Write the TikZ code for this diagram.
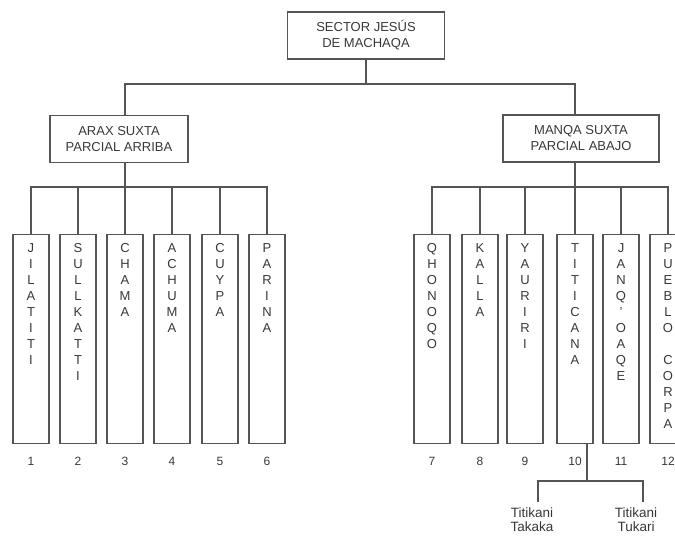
\documentclass[tikz,border=0pt]{standalone}
\usepackage{fontspec}
\setmainfont{Liberation Sans}
\usepackage{tikz}
\usetikzlibrary{calc}
\definecolor{myline}{HTML}{555555}
\definecolor{mytext}{HTML}{383838}

\begin{document}
\begin{tikzpicture}[x=1pt,y=-1pt,line width=1.3pt,draw=myline,
    every node/.style={text=mytext,font=\fontsize{13}{16}\selectfont},
    head/.style={draw=myline,align=center,inner sep=0pt,minimum height=47pt},
    leaf/.style={draw=myline,anchor=north,inner sep=0pt,minimum width=36pt,minimum height=209pt},
    letters/.style={anchor=north,align=center,inner sep=0pt},
    num/.style={font=\fontsize{12}{14}\selectfont},
    sub/.style={anchor=north,align=center,inner sep=0pt,font=\fontsize{13.5}{14}\selectfont}]

\useasboundingbox (0,0) rectangle (675,538);

\node[head,minimum width=157pt] (sector) at (366,35.5) {SECTOR JESÚS\\DE MACHAQA};
\node[head,minimum width=138pt] (arax) at (119,139) {ARAX SUXTA\\PARCIAL ARRIBA};
\node[head,minimum width=156pt] (manqa) at (581,138.5) {MANQA SUXTA\\PARCIAL ABAJO};

\foreach \i/\x in {1/31,2/78,3/125,4/172,5/220,6/267,
                   7/432,8/480,9/525,10/575,11/621,12/668}
{
    \node[leaf] (k\i) at (\x,234) {};
    \node[num] (n\i) at ($(k\i.south)+(0,17)$) {\i};
}

\node[letters] at ($(k1.north)+(0,9)$) {J\\I\\L\\A\\T\\I\\T\\I};
\node[letters] at ($(k2.north)+(0,9)$) {S\\U\\L\\L\\K\\A\\T\\T\\I};
\node[letters] at ($(k3.north)+(0,9)$) {C\\H\\A\\M\\A};
\node[letters] at ($(k4.north)+(0,9)$) {A\\C\\H\\U\\M\\A};
\node[letters] at ($(k5.north)+(0,9)$) {C\\U\\Y\\P\\A};
\node[letters] at ($(k6.north)+(0,9)$) {P\\A\\R\\I\\N\\A};
\node[letters] at ($(k7.north)+(0,9)$) {Q\\H\\O\\N\\O\\Q\\O};
\node[letters] at ($(k8.north)+(0,9)$) {K\\A\\L\\L\\A};
\node[letters] at ($(k9.north)+(0,9)$) {Y\\A\\U\\R\\I\\R\\I};
\node[letters] at ($(k10.north)+(0,9)$) {T\\I\\T\\I\\C\\A\\N\\A};
\node[letters] at ($(k11.north)+(0,9)$) {J\\A\\N\\Q\\'\\O\\A\\Q\\E};
\node[letters] at ($(k12.north)+(0,9)$) {P\\U\\E\\B\\L\\O\\[16pt]C\\O\\R\\P\\A};

\node[sub] (tk1) at (532,507) {Titikani\\Takaka};
\node[sub] (tk2) at (636,507) {Titikani\\Tukari};

\coordinate (bus) at (366,84);
\coordinate (afork) at (0,187);
\coordinate (mfork) at (0,187);
\coordinate (tfork) at (587,481);
\coordinate (tl) at (538,502);
\coordinate (tr) at (643,502);

\draw (sector) -- (bus);
\draw (k3 |- arax.north) |- (bus) -| (k10 |- manqa.north);

\draw (arax.south -| k3) -- (k3.north);
\draw (k1.north) |- (k6 |- afork) -- (k6.north);
\foreach \i in {2,4,5}
    \draw (k\i.north) -- (k\i |- afork);

\draw (manqa.south -| k10) -- (k10.north);
\draw (k7.north) |- (k12 |- mfork) -- (k12.north);
\foreach \i in {8,9,11}
    \draw (k\i.north) -- (k\i |- mfork);

\draw (k10.south -| tfork) -- (tfork);
\draw (tl) |- (tfork) -| (tr);
\end{tikzpicture}
\end{document}
